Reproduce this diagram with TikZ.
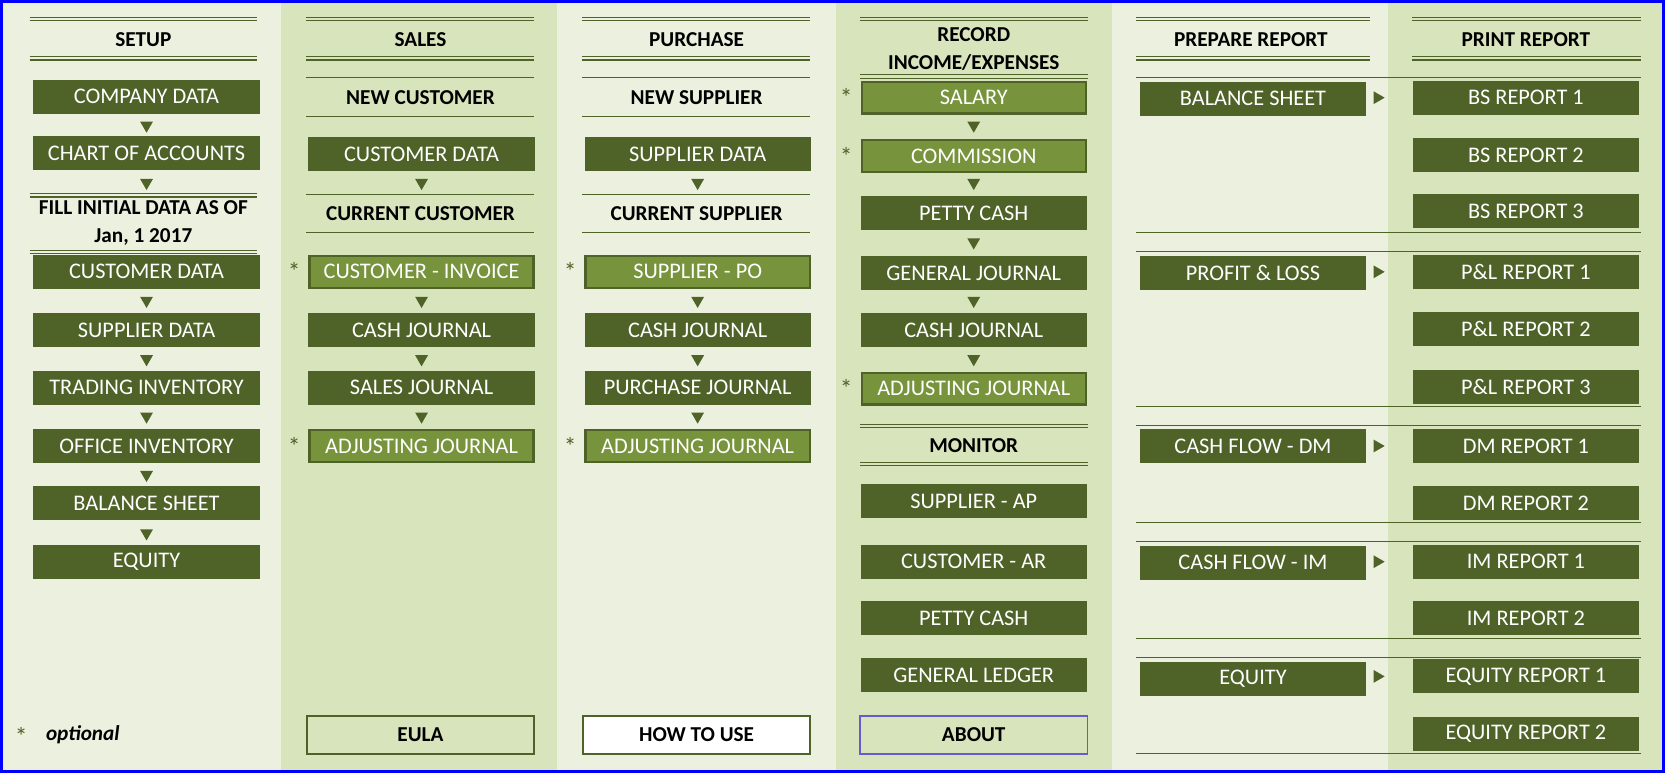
\documentclass[tikz,border=0pt]{standalone}
\usepackage{fontspec}
\setmainfont{Carlito}
\usetikzlibrary{shapes.geometric}
\definecolor{dk}{HTML}{4F6228}
\definecolor{md}{HTML}{77933C}
\definecolor{bgl}{HTML}{EBF1DE}
\definecolor{bgd}{HTML}{D8E4BC}
\definecolor{brd}{HTML}{0000FF}
\definecolor{abt}{HTML}{6A5ACD}
\tikzset{
 box/.style={fill=dk,text=white,minimum width=106.5pt,minimum height=16pt,inner sep=0pt,font=\fontsize{10.5}{12}\selectfont},
 hbox/.style={box,fill=md,draw=dk,line width=1.1pt,minimum width=105.5pt,minimum height=15pt},
 obox/.style={box,fill=bgd,text=black,draw=dk,line width=1.1pt,minimum width=107pt,minimum height=18pt,font=\fontsize{10}{12}\selectfont\bfseries},
 head/.style={font=\fontsize{10}{12}\selectfont\bfseries,align=center,inner sep=0pt},
 tri/.style={regular polygon,regular polygon sides=3,shape border rotate=180,fill=dk,minimum size=7pt,inner sep=0pt},
 rtri/.style={tri,shape border rotate=-90},
 ast/.style={font=\fontsize{12}{12}\selectfont,text=dk,inner sep=0pt},
 ln/.style={draw=dk,line width=0.5pt}
}
\newcommand\dl[3]{\draw[ln] (#1,#3-1.5)--(#2,#3-1.5); \draw[ln] (#1,#3+1.5)--(#2,#3+1.5);}
\begin{document}
\begin{tikzpicture}[x=0.5pt,y=-0.5pt]
\useasboundingbox (0,0) rectangle (1568,728);
\fill[bgl] (0,0) rectangle (1568,728);
\fill[bgd] (265,0) rectangle (525,728);
\fill[bgd] (787,0) rectangle (1047,728);
\fill[bgd] (1307,0) rectangle (1568,728);
\draw[brd,line width=1.6pt] (1.6,1.6) rectangle (1566.4,726.4);
% SETUP
\dl{28}{242}{18}\dl{28}{242}{55}
\node[head] (hsetup) at (135,37) {SETUP};
\node[box] (s1) at (138,91) {COMPANY DATA};
\node[tri] (st1) at (138,118) {};
\node[box] (s2) at (138,144) {CHART OF ACCOUNTS};
\node[tri] (st2) at (138,172) {};
\dl{28}{242}{184}
\node[head] (sfill) at (135,210) {FILL INITIAL DATA AS OF\\[1pt]Jan, 1 2017};
\dl{28}{242}{237}
\node[box] (s3) at (138,256) {CUSTOMER DATA};
\node[tri] (st3) at (138,283) {};
\node[box] (s4) at (138,311) {SUPPLIER DATA};
\node[tri] (st4) at (138,338) {};
\node[box] (s5) at (138,365) {TRADING INVENTORY};
\node[tri] (st5) at (138,392) {};
\node[box] (s6) at (138,420) {OFFICE INVENTORY};
\node[tri] (st6) at (138,447) {};
\node[box] (s7) at (138,474) {BALANCE SHEET};
\node[tri] (st7) at (138,502) {};
\node[box] (s8) at (138,529) {EQUITY};
\node[ast] (oast) at (20,694) {*};
\node[head,font=\fontsize{10}{12}\selectfont\bfseries\itshape] (opt) at (78,692) {optional};
% SALES
\dl{288}{503}{18}\dl{288}{503}{55}
\node[head] (hsales) at (396,37) {SALES};
\draw[ln] (288,73)--(503,73); \draw[ln] (288,110)--(503,110);
\node[head] (newc) at (396,92) {NEW CUSTOMER};
\node[box] (a1) at (397,145) {CUSTOMER DATA};
\node[tri] (at1) at (397,172) {};
\draw[ln] (288,183)--(503,183); \draw[ln] (288,219)--(503,219);
\node[head] (curc) at (396,201) {CURRENT CUSTOMER};
\node[hbox] (a2) at (397,256) {CUSTOMER - INVOICE};
\node[ast] (aa2) at (277,256) {*};
\node[tri] (at2) at (397,283) {};
\node[box] (a3) at (397,311) {CASH JOURNAL};
\node[tri] (at3) at (397,338) {};
\node[box] (a4) at (397,365) {SALES JOURNAL};
\node[tri] (at4) at (397,392) {};
\node[hbox] (a5) at (397,420) {ADJUSTING JOURNAL};
\node[ast] (aa5) at (277,420) {*};
\node[obox] (eula) at (396,692) {EULA};
% PURCHASE
\dl{548}{763}{18}\dl{548}{763}{55}
\node[head] (hpur) at (656,37) {PURCHASE};
\draw[ln] (548,73)--(763,73); \draw[ln] (548,110)--(763,110);
\node[head] (news) at (656,92) {NEW SUPPLIER};
\node[box] (p1) at (657,145) {SUPPLIER DATA};
\node[tri] (pt1) at (657,172) {};
\draw[ln] (548,183)--(763,183); \draw[ln] (548,219)--(763,219);
\node[head] (curs) at (656,201) {CURRENT SUPPLIER};
\node[hbox] (p2) at (657,256) {SUPPLIER - PO};
\node[ast] (pa2) at (537,256) {*};
\node[tri] (pt2) at (657,283) {};
\node[box] (p3) at (657,311) {CASH JOURNAL};
\node[tri] (pt3) at (657,338) {};
\node[box] (p4) at (657,365) {PURCHASE JOURNAL};
\node[tri] (pt4) at (657,392) {};
\node[hbox] (p5) at (657,420) {ADJUSTING JOURNAL};
\node[ast] (pa5) at (537,420) {*};
\node[obox,fill=white] (howto) at (656,692) {HOW TO USE};
% RECORD
\dl{810}{1025}{18}\dl{810}{1025}{72}
\node[head] (hrec) at (917,46) {RECORD\\[1pt]INCOME/EXPENSES};
\node[hbox] (r1) at (917,92) {SALARY};
\node[ast] (ra1) at (797,92) {*};
\node[tri] (rt1) at (917,118) {};
\node[hbox] (r2) at (917,147) {COMMISSION};
\node[ast] (ra2) at (797,147) {*};
\node[tri] (rt2) at (917,172) {};
\node[box] (r3) at (917,201) {PETTY CASH};
\node[tri] (rt3) at (917,228) {};
\node[box] (r4) at (917,257) {GENERAL JOURNAL};
\node[tri] (rt4) at (917,283) {};
\node[box] (r5) at (917,311) {CASH JOURNAL};
\node[tri] (rt5) at (917,338) {};
\node[hbox] (r6) at (917,366) {ADJUSTING JOURNAL};
\node[ast] (ra6) at (797,366) {*};
\dl{810}{1025}{401}\dl{810}{1025}{437}
\node[head] (hmon) at (917,420) {MONITOR};
\node[box] (m1) at (917,472) {SUPPLIER - AP};
\node[box] (m2) at (917,529) {CUSTOMER - AR};
\node[box] (m3) at (917,582) {PETTY CASH};
\node[box] (m4) at (917,636) {GENERAL LEDGER};
\node[obox,draw=abt,line width=0.8pt] (about) at (917,692) {ABOUT};
% PREPARE / PRINT
\dl{1070}{1290}{18}\dl{1070}{1290}{55}
\dl{1330}{1545}{18}\dl{1330}{1545}{55}
\node[head] (hprep) at (1178,37) {PREPARE REPORT};
\node[head] (hprint) at (1437,37) {PRINT REPORT};
\foreach \yy in {73,219,237,383,401,492,510,601,619,710}{\draw[ln] (1070,\yy)--(1545,\yy);}
\node[box] (q1) at (1180,93) {BALANCE SHEET};
\node[rtri] (qt1) at (1297,92) {};
\node[box] (q2) at (1180,257) {PROFIT \& LOSS};
\node[rtri] (qt2) at (1297,256) {};
\node[box] (q3) at (1180,420) {CASH FLOW - DM};
\node[rtri] (qt3) at (1297,420) {};
\node[box] (q4) at (1180,530) {CASH FLOW - IM};
\node[rtri] (qt4) at (1297,529) {};
\node[box] (q5) at (1180,639) {EQUITY};
\node[rtri] (qt5) at (1297,637) {};
\node[box] (b1) at (1437,92) {BS REPORT 1};
\node[box] (b2) at (1437,146) {BS REPORT 2};
\node[box] (b3) at (1437,199) {BS REPORT 3};
\node[box] (b4) at (1437,256) {P\&L REPORT 1};
\node[box] (b5) at (1437,310) {P\&L REPORT 2};
\node[box] (b6) at (1437,364) {P\&L REPORT 3};
\node[box] (b7) at (1437,420) {DM REPORT 1};
\node[box] (b8) at (1437,474) {DM REPORT 2};
\node[box] (b9) at (1437,529) {IM REPORT 1};
\node[box] (b10) at (1437,582) {IM REPORT 2};
\node[box] (b11) at (1437,637) {EQUITY REPORT 1};
\node[box] (b12) at (1437,691) {EQUITY REPORT 2};
\end{tikzpicture}
\end{document}
